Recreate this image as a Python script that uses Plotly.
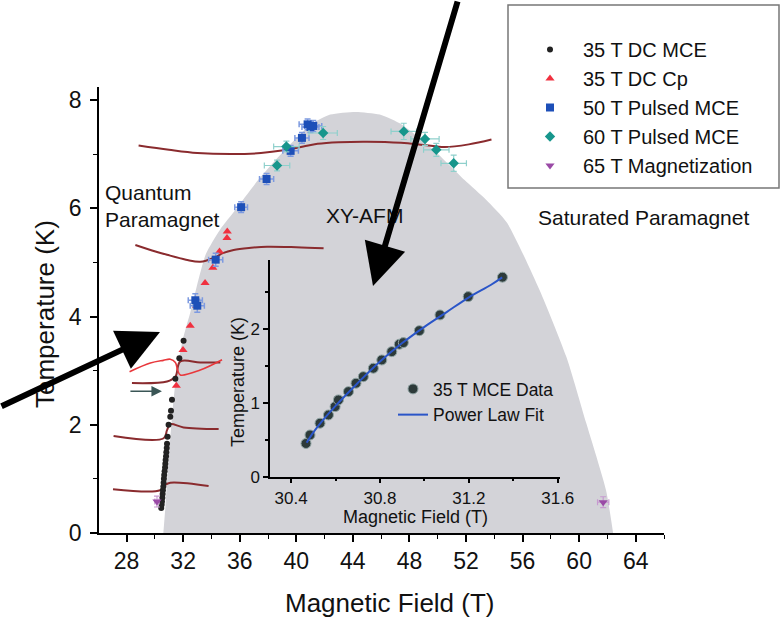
import plotly.graph_objects as go

FONT = "Liberation Sans, Arial, sans-serif"

# ---------------- data ----------------
# XY-AFM phase dome boundary (field T, temperature K)
dome_H = [30.6, 30.75, 30.95, 31.2, 31.55, 32.0, 32.5, 33.6, 34.6, 35.7, 37.3, 39.2, 41.0, 42.4,
          44.2, 45.9, 47.5, 49.7, 51.9, 53.4, 54.9, 57.2, 59.1, 60.5, 61.9, 62.4]
dome_T = [0.0, 0.5, 1.3, 2.1, 3.0, 3.6, 4.07, 5.15, 5.6, 5.97, 6.52, 7.08, 7.54, 7.73,
          7.78, 7.73, 7.54, 7.08, 6.52, 6.16, 5.73, 4.49, 3.25, 2.03, 0.79, 0.0]

# 35 T DC MCE
mce35_H = [30.45, 30.48, 30.5, 30.53, 30.55, 30.57, 30.6, 30.62, 30.64, 30.66, 30.69, 30.72,
           30.74, 30.76, 30.79, 30.81, 30.84, 30.86, 30.9, 30.97, 31.09, 31.14, 31.21, 31.45,
           31.73, 32.03]
mce35_T = [0.46, 0.52, 0.58, 0.65, 0.72, 0.79, 0.86, 0.93, 1.0, 1.07, 1.14, 1.21,
           1.28, 1.35, 1.42, 1.49, 1.57, 1.65, 1.78, 2.0, 2.15, 2.26, 2.46, 2.85,
           3.23, 3.55]

# 35 T DC Cp
cp35_H = [31.52, 31.99, 32.5, 32.95, 33.55, 34.1, 34.57, 35.1, 35.12]
cp35_T = [2.72, 3.38, 3.83, 4.2, 4.62, 4.9, 5.2, 5.45, 5.57]

# 50 T Pulsed MCE
p50_H = [32.86, 33.0, 34.3, 36.1, 37.9, 39.6, 40.4, 40.8, 41.0, 41.2]
p50_T = [4.3, 4.2, 5.05, 6.02, 6.54, 7.06, 7.3, 7.55, 7.5, 7.52]
p50_dH = [0.5, 0.5, 0.5, 0.45, 0.5, 0.55, 0.5, 0.6, 0.6, 0.6]
p50_dT = [0.12, 0.12, 0.12, 0.1, 0.1, 0.1, 0.1, 0.1, 0.1, 0.1]

# 60 T Pulsed MCE
p60_H = [38.64, 39.3, 41.9, 47.6, 49.1, 49.9, 51.13]
p60_T = [6.79, 7.14, 7.39, 7.42, 7.28, 7.08, 6.83]
p60_dH = [0.9, 0.9, 1.0, 0.9, 1.0, 0.9, 0.9]
p60_dT = [0.1, 0.1, 0.12, 0.15, 0.12, 0.12, 0.15]

# 65 T Magnetization
m65_H = [30.15, 61.7]
m65_T = [0.58, 0.57]
m65_dH = [0.15, 0.4]
m65_dT = [0.1, 0.1]

# MCE field sweeps (temperature traces)
sw1_H = [28.85, 31.0, 33.0, 35.5, 37.5, 39.1, 40.5, 41.5, 43.0, 45.0, 47.4, 49.0, 50.5, 52.2, 53.8]
sw1_T = [7.16, 7.08, 7.02, 7.0, 7.02, 7.07, 7.14, 7.19, 7.22, 7.23, 7.21, 7.17, 7.13, 7.18, 7.27]
sw2_H = [28.62, 29.8, 30.86, 32.2, 33.21, 34.15, 34.8, 35.57, 36.8, 37.93, 40.0, 41.93]
sw2_T = [5.32, 5.22, 5.14, 5.05, 5.01, 5.08, 5.17, 5.23, 5.27, 5.29, 5.28, 5.26]
sw3_H = [28.21, 29.68, 30.6, 31.09, 31.45, 31.61, 31.8, 33.21, 34.75]
sw3_T = [2.98, 3.14, 3.19, 3.21, 3.15, 3.01, 2.92, 3.01, 3.2]
sw4_H = [28.38, 30.86, 31.45, 31.8, 33.21, 34.63]
sw4_T = [2.77, 2.8, 2.89, 3.17, 3.15, 3.15]
sw5_H = [27.08, 30.62, 30.86, 31.09, 32.03, 34.51]
sw5_T = [1.79, 1.75, 1.9, 2.01, 1.95, 1.92]
sw6_H = [27.04, 30.38, 30.74, 31.09, 33.8]
sw6_T = [0.81, 0.79, 0.89, 0.93, 0.87]

# inset: 35 T MCE data and power-law fit
in_H = [30.467, 30.485, 30.53, 30.568, 30.598, 30.613, 30.658, 30.692, 30.725, 30.77,
        30.808, 30.853, 30.887, 30.905, 30.977, 31.07, 31.197, 31.351]
in_T = [0.45, 0.565, 0.724, 0.836, 0.949, 1.04, 1.152, 1.266, 1.355, 1.469,
        1.581, 1.694, 1.794, 1.816, 1.978, 2.191, 2.439, 2.702]
fit_H = [30.47, 30.5, 30.55, 30.6, 30.7, 30.8, 30.9, 31.0, 31.1, 31.2, 31.3, 31.35]
fit_T = [0.46, 0.6, 0.79, 0.96, 1.27, 1.56, 1.81, 2.03, 2.23, 2.43, 2.6, 2.70]

x_ticks = [28, 32, 36, 40, 44, 48, 52, 56, 60, 64]
y_ticks = [0, 2, 4, 6, 8]
in_x_ticks = [30.4, 30.8, 31.2, 31.6]
in_y_ticks = [0, 1, 2]

# ---------------- figure ----------------
L, R, T, B = 99, 120, 87, 85
W, H = 784, 618
PW, PH = W - L - R, H - T - B

def px(x):
    return (x - L) / PW

def py(y):
    return (H - B - y) / PH

fig = go.Figure()

fig.add_trace(go.Scatter(x=dome_H, y=dome_T, fill="toself", mode="lines",
                         line=dict(width=0, color="#d3d3d8", shape="spline", smoothing=0.6),
                         fillcolor="#d3d3d8", showlegend=False, hoverinfo="skip"))

for sh, st in [(sw1_H, sw1_T), (sw2_H, sw2_T), (sw4_H, sw4_T), (sw5_H, sw5_T), (sw6_H, sw6_T)]:
    fig.add_trace(go.Scatter(x=sh, y=st, mode="lines", line=dict(color="#8a2b2e", width=2, shape="spline"),
                             showlegend=False, hoverinfo="skip"))
fig.add_trace(go.Scatter(x=sw3_H, y=sw3_T, mode="lines", line=dict(color="#e8383c", width=1.6, shape="spline"),
                         showlegend=False, hoverinfo="skip"))

fig.add_trace(go.Scatter(x=mce35_H, y=mce35_T, mode="markers", name="35 T DC MCE",
                         marker=dict(symbol="circle", size=6, color="#222222")))
fig.add_trace(go.Scatter(x=cp35_H, y=cp35_T, mode="markers", name="35 T DC Cp",
                         marker=dict(symbol="triangle-up", size=8, color="#f0303f")))
fig.add_trace(go.Scatter(x=p50_H, y=p50_T, mode="markers", name="50 T Pulsed MCE",
                         marker=dict(symbol="square", size=8, color="#1d4fb8"),
                         error_x=dict(type="data", array=p50_dH, color="#7d9ae0", thickness=1.5, width=3),
                         error_y=dict(type="data", array=p50_dT, color="#7d9ae0", thickness=1.5, width=3)))
fig.add_trace(go.Scatter(x=p60_H, y=p60_T, mode="markers", name="60 T Pulsed MCE",
                         marker=dict(symbol="diamond", size=8, color="#17968c"),
                         error_x=dict(type="data", array=p60_dH, color="#8fd0cc", thickness=1.2, width=3),
                         error_y=dict(type="data", array=p60_dT, color="#8fd0cc", thickness=1.2, width=3)))
fig.add_trace(go.Scatter(x=m65_H, y=m65_T, mode="markers", name="65 T Magnetization",
                         marker=dict(symbol="triangle-down", size=8, color="#9a4aa6"),
                         error_x=dict(type="data", array=m65_dH, color="#c79ad0", thickness=1.2, width=3),
                         error_y=dict(type="data", array=m65_dT, color="#c79ad0", thickness=1.2, width=3)))

# inset
fig.add_trace(go.Scatter(x=in_H, y=in_T, mode="markers", name="35 T MCE Data", xaxis="x2", yaxis="y2",
                         legend="legend2",
                         marker=dict(symbol="circle", size=10, color="#2d3a3a", line=dict(color="#8fa3a3", width=1))))
fig.add_trace(go.Scatter(x=fit_H, y=fit_T, mode="lines", name="Power Law Fit", xaxis="x2", yaxis="y2",
                         legend="legend2", line=dict(color="#2a55c8", width=2, shape="spline")))

axis_common = dict(showline=True, linecolor="black", linewidth=1.5, showgrid=False, zeroline=False,
                   ticks="outside", tickcolor="black", tickwidth=1.5)

fig.update_layout(
    width=W, height=H, margin=dict(l=L, r=R, t=T, b=B),
    paper_bgcolor="white", plot_bgcolor="rgba(0,0,0,0)",
    font=dict(family=FONT, color="#111111"),
    xaxis=dict(range=[26.05, 66], tickvals=x_ticks, ticklen=7,
               tickfont=dict(size=23, family=FONT),
               minor=dict(dtick=2, tick0=26, ticklen=4, ticks="outside", tickcolor="black", tickwidth=1.2),
               **axis_common),
    yaxis=dict(range=[0, 8.24], tickvals=y_ticks, ticklen=7,
               tickfont=dict(size=23, family=FONT), ticklabelstandoff=4,
               minor=dict(dtick=1, tick0=0, ticklen=4, ticks="outside", tickcolor="black", tickwidth=1.2),
               **axis_common),
    xaxis2=dict(domain=[px(270), px(560)], anchor="y2", range=[30.305, 31.61], tickvals=in_x_ticks,
                ticklen=5, tickfont=dict(size=17, family=FONT),
                minor=dict(dtick=0.2, tick0=30.4, ticklen=3, ticks="outside", tickcolor="black"),
                **axis_common),
    yaxis2=dict(domain=[py(476.7), py(260)], anchor="x2", range=[0, 2.935], tickvals=in_y_ticks,
                ticklen=5, tickfont=dict(size=17, family=FONT),
                minor=dict(dtick=0.5, tick0=0, ticklen=3, ticks="outside", tickcolor="black"),
                **axis_common),
    legend=dict(x=px(517), y=py(30), xanchor="left", yanchor="top", bgcolor="rgba(0,0,0,0)",
                font=dict(size=20, family=FONT), itemwidth=56, borderwidth=0),
    legend2=dict(x=px(393), y=py(371), xanchor="left", yanchor="top", bgcolor="rgba(0,0,0,0)",
                 font=dict(size=17.5, family=FONT), borderwidth=0),
    showlegend=True,
)

# legend frame
fig.add_shape(type="rect", xref="paper", yref="paper", x0=px(508), x1=px(779), y0=py(188), y1=py(5),
              line=dict(color="#777777", width=1.5), fillcolor="rgba(0,0,0,0)")

ann = []
ann.append(dict(text="Magnetic Field (T)", x=px(390), y=py(603), xref="paper", yref="paper",
                showarrow=False, font=dict(size=26, family=FONT), xanchor="center", yanchor="middle"))
ann.append(dict(text="Temperature (K)", x=px(45), y=py(314), xref="paper", yref="paper", textangle=-90,
                showarrow=False, font=dict(size=26, family=FONT), xanchor="center", yanchor="middle"))
ann.append(dict(text="Magnetic Field (T)", x=px(415), y=py(517), xref="paper", yref="paper",
                showarrow=False, font=dict(size=18, family=FONT), xanchor="center", yanchor="middle"))
ann.append(dict(text="Temperature (K)", x=px(238), y=py(382), xref="paper", yref="paper", textangle=-90,
                showarrow=False, font=dict(size=18, family=FONT), xanchor="center", yanchor="middle"))
ann.append(dict(text="Quantum<br>Paramagnet", x=px(103), y=py(206), xref="paper", yref="paper",
                showarrow=False, font=dict(size=21, family=FONT), xanchor="left", yanchor="middle", align="left"))
ann.append(dict(text="XY-AFM", x=px(364), y=py(215), xref="paper", yref="paper",
                showarrow=False, font=dict(size=21, family=FONT), xanchor="center", yanchor="middle"))
ann.append(dict(text="Saturated Paramagnet", x=px(536), y=py(218), xref="paper", yref="paper",
                showarrow=False, font=dict(size=21, family=FONT), xanchor="left", yanchor="middle"))
# big black arrows
ann.append(dict(text="", x=px(373), y=py(286), xref="paper", yref="paper", showarrow=True,
                ax=85, ay=-290, arrowwidth=6, arrowhead=2, arrowsize=1.4, arrowcolor="black"))
ann.append(dict(text="", x=px(160), y=py(332), xref="paper", yref="paper", showarrow=True,
                ax=-170, ay=75, arrowwidth=6, arrowhead=2, arrowsize=1.4, arrowcolor="black"))
# small sweep-direction arrow
ann.append(dict(text="", x=30.5, y=2.62, xref="x", yref="y", showarrow=True,
                ax=-33, ay=0, arrowwidth=1.5, arrowhead=2, arrowsize=1.4, arrowcolor="#3a5656"))
fig.update_layout(annotations=ann)

fig.write_html("out.html")
